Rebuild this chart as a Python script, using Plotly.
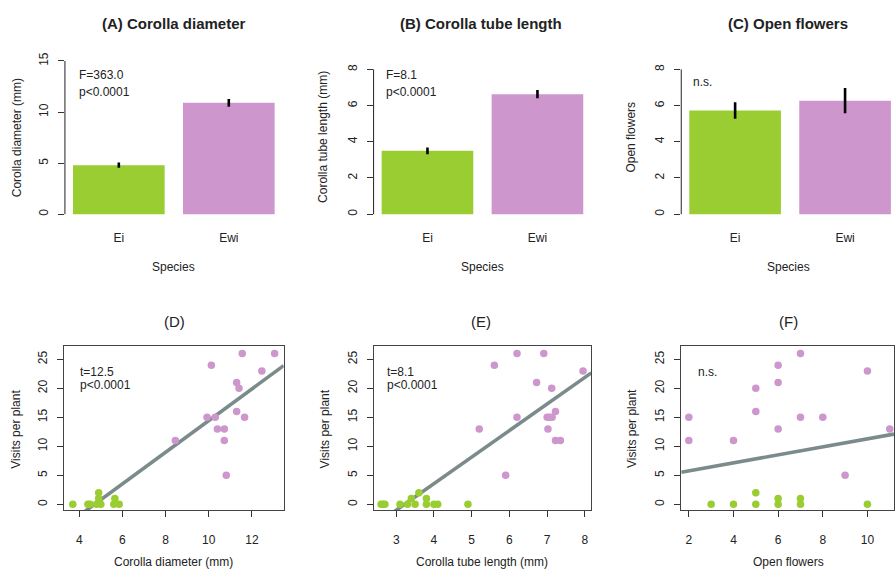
import plotly.graph_objects as go

W, H = 895, 570
FONT = "Liberation Sans, Arial, sans-serif"
TXT = "#222222"

# ---------------- data ----------------
species = ["Ei", "Ewi"]
bar_pos = [0.7, 1.9]
bar_colors = ["#9ACD32", "#CD96CD"]

diam_mean = [4.8, 10.9]
diam_se = [0.25, 0.38]
tube_mean = [3.5, 6.63]
tube_se = [0.19, 0.23]
flowers_mean = [5.73, 6.27]
flowers_se = [0.46, 0.70]

# (D) visits vs corolla diameter
D_ei_x = [3.7, 4.4, 4.5, 4.8, 4.9, 4.9, 5.0, 5.6, 5.65, 5.85]
D_ei_y = [0, 0, 0, 0, 2, 1, 0, 0, 1, 0]
D_ewi_x = [8.45, 9.92, 10.3, 10.12, 10.4, 10.72, 10.72, 10.81, 11.55, 11.29, 11.40, 11.29, 11.66, 12.46, 13.05]
D_ewi_y = [11, 15, 15, 24, 13, 13, 11, 5, 26, 21, 20, 16, 15, 23, 26]
D_fit = [-12.85, 2.73]  # intercept, slope

# (E) visits vs corolla tube length
E_ei_x = [2.6, 2.65, 2.7, 3.1, 3.3, 3.4, 3.5, 3.6, 3.8, 3.8, 4.0, 4.1, 4.9]
E_ei_y = [0, 0, 0, 0, 0, 1, 0, 2, 1, 0, 0, 0, 0]
E_ewi_x = [5.2, 5.6, 5.9, 6.2, 6.2, 6.72, 6.91, 7.0, 7.06, 7.13, 7.02, 7.12, 7.22, 7.22, 7.35, 7.95]
E_ewi_y = [13, 24, 5, 26, 15, 21, 26, 15, 15, 15, 13, 20, 16, 11, 11, 23]
E_fit = [-14.75, 4.58]

# (F) visits vs open flowers
F_ei_x = [3, 4, 5, 5, 6, 6, 7, 7, 10]
F_ei_y = [0, 0, 2, 0, 1, 0, 1, 0, 0]
F_ewi_x = [2, 2, 4, 5, 5, 6, 6, 6, 7, 7, 8, 9, 10, 11]
F_ewi_y = [15, 11, 11, 20, 16, 24, 21, 13, 26, 15, 15, 5, 23, 13]
F_fit = [4.39, 0.69]

# ---------------- helpers ----------------
def px(x):
    return x / W

def py(y):
    return 1 - y / H

top_dom_y = [py(218), py(52)]
bot_dom_y = [py(510), py(345)]
col_x = [(65, 283), (374, 592), (682, 895)]
bot_x = [(64, 284), (374, 592), (682, 895)]

fig = go.Figure()

bars = [
    (diam_mean, diam_se, [-0.555, 15.61], [0, 5, 10, 15], 15),
    (tube_mean, tube_se, [-0.313, 8.81], [0, 2, 4, 6, 8], 8),
    (flowers_mean, flowers_se, [-0.313, 8.81], [0, 2, 4, 6, 8], 8),
]
bar_xranges = [[0.112, 2.488], [0.112, 2.488], [0.112, 2.434]]

layout = dict(
    width=W, height=H,
    margin=dict(l=0, r=0, t=0, b=0),
    paper_bgcolor="white", plot_bgcolor="white",
    showlegend=False,
    font=dict(family=FONT, size=12, color=TXT),
)
shapes = []

for i, (m, se, yr, yt, ytop) in enumerate(bars):
    n = i + 1
    xa = "x" if n == 1 else f"x{n}"
    ya = "y" if n == 1 else f"y{n}"
    fig.add_trace(go.Bar(
        x=bar_pos, y=m, width=1.0, xaxis=xa, yaxis=ya,
        marker=dict(color=bar_colors, line=dict(width=0)),
        error_y=dict(type="data", array=se, color="black", thickness=2.6, width=0),
    ))
    layout[f"xaxis{'' if n == 1 else n}"] = dict(
        domain=[px(col_x[i][0]), px(col_x[i][1])], anchor=ya,
        range=bar_xranges[i], tickvals=bar_pos, ticktext=species,
        showline=False, ticks="", showgrid=False, zeroline=False,
        ticklabelstandoff=9, tickfont=dict(size=12, color=TXT),
    )
    layout[f"yaxis{'' if n == 1 else n}"] = dict(
        domain=top_dom_y, anchor=xa, range=yr, tickvals=yt,
        showline=False, ticks="outside", ticklen=6, tickcolor="#333",
        showgrid=False, zeroline=False, tickangle=-90,
        ticklabelstandoff=5, tickfont=dict(size=12, color=TXT),
    )
    shapes.append(dict(type="line", xref=f"{xa} domain", yref=ya,
                       x0=0, x1=0, y0=0, y1=ytop,
                       line=dict(color="#222", width=1)))

scat = [
    (D_ei_x, D_ei_y, D_ewi_x, D_ewi_y, D_fit, [3.29, 13.47], [4, 6, 8, 10, 12]),
    (E_ei_x, E_ei_y, E_ewi_x, E_ewi_y, E_fit, [2.40, 8.17], [3, 4, 5, 6, 7, 8]),
    (F_ei_x, F_ei_y, F_ewi_x, F_ewi_y, F_fit, [1.66, 11.19], [2, 4, 6, 8, 10]),
]
for i, (gx, gy, px_, py_, fit, xr, xt) in enumerate(scat):
    n = i + 4
    xa, ya = f"x{n}", f"y{n}"
    fig.add_trace(go.Scatter(
        x=[xr[0], xr[1]], y=[fit[0] + fit[1] * xr[0], fit[0] + fit[1] * xr[1]],
        mode="lines", line=dict(color="#7B8B8B", width=3.6),
        xaxis=xa, yaxis=ya, hoverinfo="skip"))
    fig.add_trace(go.Scatter(x=gx, y=gy, mode="markers", xaxis=xa, yaxis=ya,
                             marker=dict(color="#9ACD32", size=7.5, line=dict(width=0))))
    fig.add_trace(go.Scatter(x=px_, y=py_, mode="markers", xaxis=xa, yaxis=ya,
                             marker=dict(color="#CD96CD", size=7.5, line=dict(width=0))))
    layout[f"xaxis{n}"] = dict(
        domain=[px(bot_x[i][0]), px(bot_x[i][1])], anchor=ya, range=xr,
        tickvals=xt, showline=True, mirror=True, linecolor="#444", linewidth=1,
        ticks="outside", ticklen=6, tickcolor="#333", showgrid=False,
        zeroline=False, ticklabelstandoff=12, tickfont=dict(size=12, color=TXT),
    )
    layout[f"yaxis{n}"] = dict(
        domain=bot_dom_y, anchor=xa, range=[-1.03, 27.27],
        tickvals=[0, 5, 10, 15, 20, 25], showline=True, mirror=True,
        linecolor="#444", linewidth=1, ticks="outside", ticklen=6,
        tickcolor="#333", showgrid=False, zeroline=False, tickangle=-90,
        ticklabelstandoff=5, tickfont=dict(size=12, color=TXT),
    )

ann = []

def text(x, y, s, size=12, bold=False, angle=0, xanchor="center"):
    ann.append(dict(
        x=px(x), y=py(y), xref="paper", yref="paper", text=(f"<b>{s}</b>" if bold else s),
        showarrow=False, xanchor=xanchor, yanchor="middle", textangle=angle,
        font=dict(family=FONT, size=size, color=TXT)))

# panel titles
text(174, 21, "(A) Corolla diameter", size=15, bold=True)
text(482, 21, "(B) Corolla tube length", size=15, bold=True)
text(789, 21, "(C) Open flowers", size=15, bold=True)
text(175, 320, "(D)", size=15)
text(482, 320, "(E)", size=15)
text(789, 320, "(F)", size=15)

# axis titles
for cx in (174, 483, 789):
    text(cx, 265, "Species")
text(17, 135, "Corolla diameter (mm)", angle=-90)
text(324, 135, "Corolla tube length (mm)", angle=-90)
text(632, 135, "Open flowers", angle=-90)
for lx in (16, 325, 632):
    text(lx, 428, "Visits per plant", angle=-90)
text(174, 562, "Corolla diameter (mm)")
text(483, 562, "Corolla tube length (mm)")
text(789, 562, "Open flowers")

# statistics
text(77, 72, "F=363.0", xanchor="left")
text(77, 89, "p&lt;0.0001", xanchor="left")
text(384, 72, "F=8.1", xanchor="left")
text(384, 89, "p&lt;0.0001", xanchor="left")
text(692, 79, "n.s.", xanchor="left")
text(78, 371, "t=12.5", xanchor="left")
text(78, 384, "p&lt;0.0001", xanchor="left")
text(385, 371, "t=8.1", xanchor="left")
text(385, 384, "p&lt;0.0001", xanchor="left")
text(697, 371, "n.s.", xanchor="left")

layout["annotations"] = ann
layout["shapes"] = shapes
fig.update_layout(**layout)
fig.write_html(
    "out.html",
    config={"displayModeBar": False},
    post_script="document.body.style.margin='0';document.body.style.padding='0';"
                "document.body.style.overflow='hidden';",
)
